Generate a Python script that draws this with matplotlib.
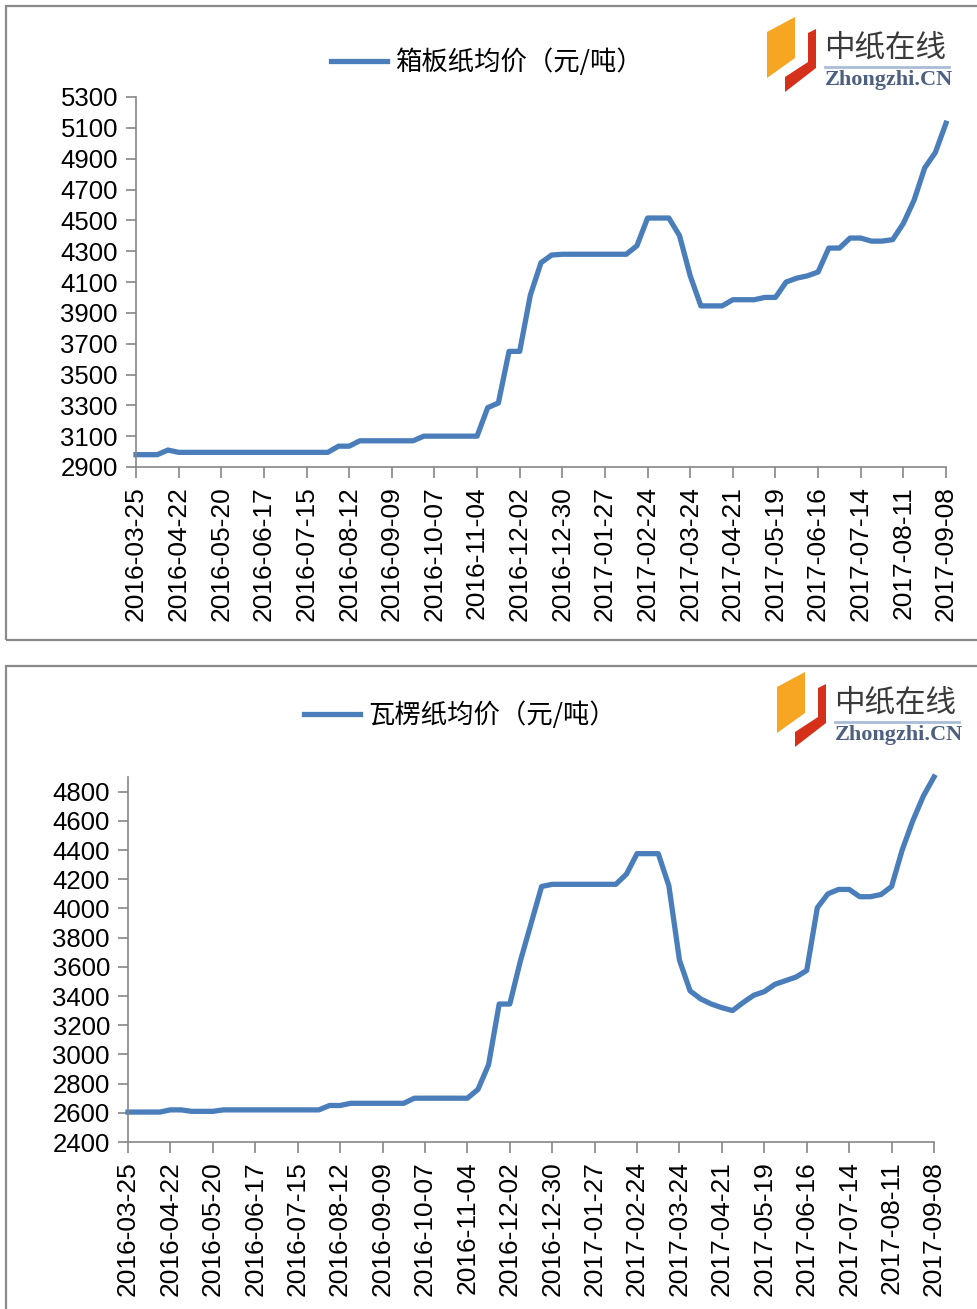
import numpy as np
import matplotlib.pyplot as plt
from matplotlib.patches import Rectangle, Polygon
from matplotlib.lines import Line2D

plt.rcParams['font.family'] = ['Liberation Sans', 'Noto Sans CJK SC', 'DejaVu Sans']

# 每4周一个日期刻度
tick_labels = ['2016-03-25', '2016-04-22', '2016-05-20', '2016-06-17', '2016-07-15',
               '2016-08-12', '2016-09-09', '2016-10-07', '2016-11-04', '2016-12-02',
               '2016-12-30', '2017-01-27', '2017-02-24', '2017-03-24', '2017-04-21',
               '2017-05-19', '2017-06-16', '2017-07-14', '2017-08-11', '2017-09-08']

# 箱板纸均价（元/吨），周度
boxboard = [2980, 2980, 2980, 3010, 2995, 2995, 2995, 2995, 2995, 2995,
            2995, 2995, 2995, 2995, 2995, 2995, 2995, 2995, 2995, 3035,
            3035, 3070, 3070, 3070, 3070, 3070, 3070, 3100, 3100, 3100,
            3100, 3100, 3100, 3285, 3315, 3650, 3650, 4015, 4225, 4275,
            4280, 4280, 4280, 4280, 4280, 4280, 4280, 4335, 4515, 4515,
            4515, 4400, 4140, 3945, 3945, 3945, 3985, 3985, 3985, 4000,
            4000, 4100, 4125, 4140, 4165, 4320, 4320, 4385, 4385, 4365,
            4365, 4375, 4480, 4630, 4840, 4940, 5130]

# 瓦楞纸均价（元/吨），周度
corrugated = [2605, 2605, 2605, 2605, 2620, 2620, 2610, 2610, 2610, 2620,
              2620, 2620, 2620, 2620, 2620, 2620, 2620, 2620, 2620, 2650,
              2650, 2665, 2665, 2665, 2665, 2665, 2665, 2700, 2700, 2700,
              2700, 2700, 2700, 2760, 2930, 3345, 3345, 3640, 3895, 4150,
              4165, 4165, 4165, 4165, 4165, 4165, 4165, 4235, 4375, 4375,
              4375, 4155, 3645, 3435, 3380, 3345, 3320, 3300, 3355, 3405,
              3430, 3480, 3505, 3530, 3575, 4005, 4100, 4130, 4130, 4080,
              4080, 4095, 4150, 4400, 4600, 4770, 4900]

W, H = 977, 1309
LINE_COLOR = '#4a7ebb'
AXIS_COLOR = '#868686'


def fx(px):
    return px / W


def fy(py):
    return 1 - py / H


fig = plt.figure(figsize=(W / 100, H / 100), dpi=100)


def draw_logo(x0, y0):
    # 中纸在线 logo，(x0, y0) 为图标左上角像素位置
    tr = fig.transFigure
    orange = [(x0 + 4, y0 + 15), (x0 + 32, y0), (x0 + 32, y0 + 41), (x0 + 4, y0 + 61)]
    red = [(x0 + 45, y0 + 16), (x0 + 53, y0 + 12), (x0 + 53, y0 + 51),
           (x0 + 22, y0 + 75), (x0 + 22, y0 + 60), (x0 + 45, y0 + 45)]
    fig.patches.append(Polygon([(fx(a), fy(b)) for a, b in orange], closed=True,
                               facecolor='#f7a623', edgecolor='none', transform=tr))
    fig.patches.append(Polygon([(fx(a), fy(b)) for a, b in red], closed=True,
                               facecolor='#d4301a', edgecolor='none', transform=tr))
    fig.text(fx(x0 + 61), fy(y0 + 31), '中纸在线', family=['Noto Sans CJK SC'],
             fontsize=22, color='#3a3a3a', va='center', ha='left')
    fig.add_artist(Line2D([fx(x0 + 62), fx(x0 + 186)], [fy(y0 + 50), fy(y0 + 50)],
                          color='#a9bdd8', lw=2, transform=tr))
    fig.text(fx(x0 + 62), fy(y0 + 63), 'Zhongzhi.CN', family=['Liberation Serif'],
             fontsize=16, color='#4d6080', va='center', ha='left', weight='bold')


def draw_panel(box, values, name, ylim, yticks, legend_c, logo_xy, frame):
    # 外框
    fx0, fy0, fx1, fy1 = frame
    fig.patches.append(Rectangle((fx(fx0), fy(fy1)), fx(fx1) - fx(fx0), fy(fy0) - fy(fy1),
                                 transform=fig.transFigure, fill=False,
                                 edgecolor='#8a8a8a', lw=1.6))

    left, top, right, bottom = box
    ax = fig.add_axes([fx(left), fy(bottom), fx(right) - fx(left), fy(top) - fy(bottom)])
    x = np.arange(len(values))
    line, = ax.plot(x, values, color=LINE_COLOR, lw=3.8, solid_joinstyle='round',
                    clip_on=False)
    ax.set_xlim(0, len(values) - 1)
    ax.set_ylim(*ylim)
    ax.set_yticks(yticks)
    ax.set_xticks(x[::4])
    ax.set_xticklabels(tick_labels, rotation=90)
    for s in ['top', 'right']:
        ax.spines[s].set_visible(False)
    for s in ['left', 'bottom']:
        ax.spines[s].set_color(AXIS_COLOR)
        ax.spines[s].set_linewidth(1.2)
    ax.tick_params(axis='y', length=7, width=1.2, color=AXIS_COLOR, pad=6,
                   labelsize=18.5, labelcolor='black')
    ax.tick_params(axis='x', length=8, width=1.2, color=AXIS_COLOR, pad=6,
                   labelsize=19, labelcolor='black')

    fig.legend([line], [name], loc='center', frameon=False,
               bbox_to_anchor=(fx(legend_c[0]), fy(legend_c[1])),
               prop={'family': ['Noto Sans CJK SC'], 'size': 19},
               handlelength=2.1, handletextpad=0.3)
    draw_logo(*logo_xy)
    return ax


draw_panel((136, 97, 946, 467), boxboard, '箱板纸均价（元/吨）',
           (2900, 5300), np.arange(2900, 5301, 200), (487, 62), (763, 17),
           (6, 6, 990, 640))
draw_panel((128, 777, 934, 1142), corrugated, '瓦楞纸均价（元/吨）',
           (2400, 4900), np.arange(2400, 4801, 200), (460, 715), (773, 672),
           (6, 666, 990, 1330))

fig.savefig('out.png', dpi=100)
